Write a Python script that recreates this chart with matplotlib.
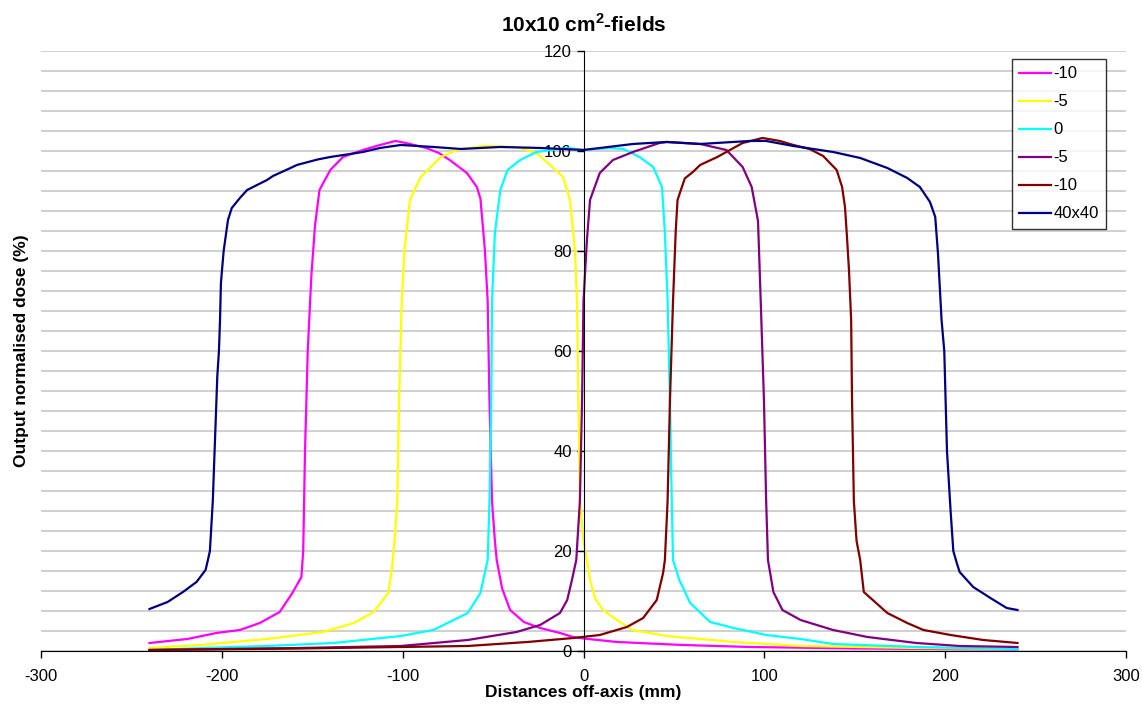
import numpy as np
import matplotlib
matplotlib.use('Agg')
import matplotlib.pyplot as plt

plt.rcParams['font.family'] = ['Liberation Sans', 'DejaVu Sans']
plt.rcParams['axes.unicode_minus'] = False
plt.rcParams['mathtext.fontset'] = 'custom'
plt.rcParams['mathtext.bf'] = 'Liberation Sans:bold'

# profiles: distance off-axis (mm) vs normalised dose (%)
x_m10 = [-240, -219, -203, -190, -179, -168, -161, -156, -155, -154, -152.5, -150.5, -148.5, -146, -140, -133, -122,
         -112.5, -104, -101, -96, -87, -80, -74, -64.5, -59, -57, -54.5, -53, -52, -50.6, -49, -48, -45, -40.6, -33,
         -24, -13, -5.8, 0, 18.5, 55, 92, 150, 240]
y_m10 = [1.6, 2.4, 3.6, 4.2, 5.6, 7.8, 11.6, 14.8, 20, 40, 60, 75, 85, 92.2, 96.2, 98.8, 100.2,
         101.2, 102, 101.8, 101.4, 100.6, 99.6, 98.2, 95.6, 92.8, 90.5, 80, 70, 50, 30, 22, 18.2, 12.5, 8.2, 5.8,
         4.6, 3.6, 2.8, 2.5, 1.8, 1.2, 0.8, 0.5, 0.3]

x_m5 = [-240, -212, -175, -144, -127, -116, -108, -106, -104.5, -103, -102, -100.5, -99, -96, -90, -79, -70, -55.6,
        -37, -26, -18.5, -11.3, -7.5, -4.7, -3.6, -2.8, -2, 0, 1.9, 3.6, 6.4, 10.8, 18.5, 27, 46, 83, 120, 184, 240]
y_m5 = [0.6, 1.2, 2.4, 3.8, 5.6, 7.8, 11.6, 16.2, 22, 30, 50, 70, 80, 90.2, 94.8, 98.8, 100.2, 101,
        100.8, 99.6, 97.2, 94.8, 90.2, 80, 70, 50, 30, 22, 18.2, 14.2, 10.5, 8.2, 6.2, 4.2, 3, 1.8, 1.0, 0.6, 0.4]

x_0 = [-240, -194, -175, -138, -101, -83, -64, -57, -53, -52, -51, -50.6, -49, -46, -42, -35, -26, -9, 0, 14.7, 22,
       31, 38.5, 43.4, 45, 46.5, 47.8, 48.8, 49.5, 53, 59, 70, 83, 101, 120, 138, 184, 240]
y_0 = [0.2, 0.8, 1.0, 1.6, 3, 4.2, 7.6, 11.6, 18.2, 30, 50, 70, 83.6, 92.2, 96.2, 98.2, 99.8, 100.6, 100.2, 100.6, 100.4,
       98.8, 96.8, 92.8, 83.6, 70, 50, 30, 18.2, 14.2, 9.6, 5.8, 4.6, 3.2, 2.4, 1.4, 0.8, 0.4]

x_p5 = [-240, -157, -101, -64, -37, -24, -13, -9, -6.4, -4, -2, -0.8, 0, 1.9, 3.6, 9, 16.3, 27.4, 42, 46, 64.5, 79,
        88, 93, 96.5, 98, 99.8, 101, 102, 105, 110, 120, 138, 157, 184, 208, 240]
y_p5 = [0.2, 0.6, 1.0, 2.2, 3.8, 5.2, 7.6, 10.2, 14.2, 18.2, 30, 50, 70, 82.2, 90.2, 95.6, 98.2, 99.8, 101.6, 101.8, 101.4, 100.2,
        96.8, 92.8, 86, 70, 50, 30, 18.2, 11.8, 8.2, 6.2, 4.2, 2.8, 1.6, 1.0, 0.8]

x_p10 = [-240, -157, -101, -64, -31, -5.5, 9, 24, 33, 40.5, 44, 45, 46.5, 47.8, 49.5, 51, 52, 56, 60.5, 64.5, 74, 88,
         99, 108.6, 116, 125, 132.5, 140, 143, 144.6, 145.7, 146.8, 148, 148.5, 149.5, 151, 153, 155, 168, 179, 188,
         203, 221, 240]
y_p10 = [0.2, 0.5, 0.8, 1.0, 1.8, 2.6, 3.2, 4.8, 6.6, 10.2, 15.6, 18.2, 30, 50, 70, 84, 90.2, 94.5, 95.8, 97.2, 98.8, 101.6,
         102.6, 102, 101.2, 100.4, 99, 96.2, 92.8, 88.8, 82.8, 76.2, 66.2, 50, 30, 22, 18.2, 11.8, 7.6, 5.6, 4.2,
         3.2, 2.2, 1.6]

x_40 = [-240, -230, -221.5, -214, -209, -207.7, -206.6, -205, -204, -202.5, -201.6, -201, -200.5, -199, -196.6, -194.5,
        -190, -186, -175, -171.7, -162, -158.5, -147, -140, -129, -122, -112.5, -101, -83, -68, -46, -24, 0, 27.4,
        46, 64.5, 92, 101, 116, 138, 153, 168, 179, 186, 191.6, 194.5, 196, 198, 199.5, 201, 203, 204.5, 206.5, 208,
        215.5, 225, 234, 240]
y_40 = [8.4, 9.8, 11.8, 13.8, 16.2, 18.2, 20, 30, 40, 55, 60, 66.2, 73.6, 80, 86.2, 88.6,
        90.6, 92.2, 94.2, 95.0, 96.6, 97.2, 98.3, 98.8, 99.4, 99.8, 100.6, 101.2, 100.8, 100.4, 100.8, 100.6, 100.2, 101.4,
        101.8, 101.4, 102, 102, 101, 99.8, 98.6, 96.6, 94.6, 92.8, 89.8, 86.8, 79.6, 66.2, 60, 40, 28, 20, 17.5, 15.8,
        12.8, 10.6, 8.6, 8.2]

series = [(x_m10, y_m10, '-10', '#FF00FF'),
          (x_m5, y_m5, '-5', '#FFFF00'),
          (x_0, y_0, '0', '#00FFFF'),
          (x_p5, y_p5, '-5', '#800080'),
          (x_p10, y_p10, '-10', '#800000'),
          (x_40, y_40, '40x40', '#000080')]

fig = plt.figure(figsize=(11.42, 7.04), dpi=100)
ax = fig.add_axes([0.0359, 0.0753, 0.9501, 0.8523])

for xs, ys, lab, col in series:
    ax.plot(xs, ys, color=col, lw=1.6, label=lab)

ax.set_xlim(-300, 300)
ax.set_ylim(0, 120)
ax.set_xticks(np.arange(-300, 301, 100))
ax.set_yticks(np.arange(0, 121, 20))
ax.set_yticks(np.arange(0, 121, 4), minor=True)
ax.yaxis.grid(True, which='both', color='#c8c8c8', lw=1.2)
ax.set_axisbelow(True)

ax.spines['left'].set_position(('data', 0))
ax.spines['top'].set_visible(False)
ax.spines['right'].set_visible(False)
ax.spines['left'].set_color('black')
ax.spines['bottom'].set_color('black')
ax.tick_params(axis='both', which='major', direction='out', length=5, width=1, labelsize=12)
ax.tick_params(axis='y', which='minor', length=0)
ax.tick_params(axis='x', pad=8)

ax.set_title('10x10 cm$^\\mathbf{2}$-fields', fontsize=15, fontweight='bold', pad=14)
ax.set_xlabel('Distances off-axis (mm)', fontsize=12.5, fontweight='bold', labelpad=1)
ax.set_ylabel('Output normalised dose (%)', fontsize=12.5, fontweight='bold')
ax.yaxis.set_label_coords(-0.011, 0.5, transform=ax.transAxes)

leg = ax.legend(loc='upper right', bbox_to_anchor=(0.9816, 0.9867), borderaxespad=0, fancybox=False,
                edgecolor='black', fontsize=12, labelspacing=0.78, handlelength=1.9, handletextpad=0.15,
                borderpad=0.45)
leg.get_frame().set_linewidth(1.0)

fig.savefig('out.png', dpi=100)
